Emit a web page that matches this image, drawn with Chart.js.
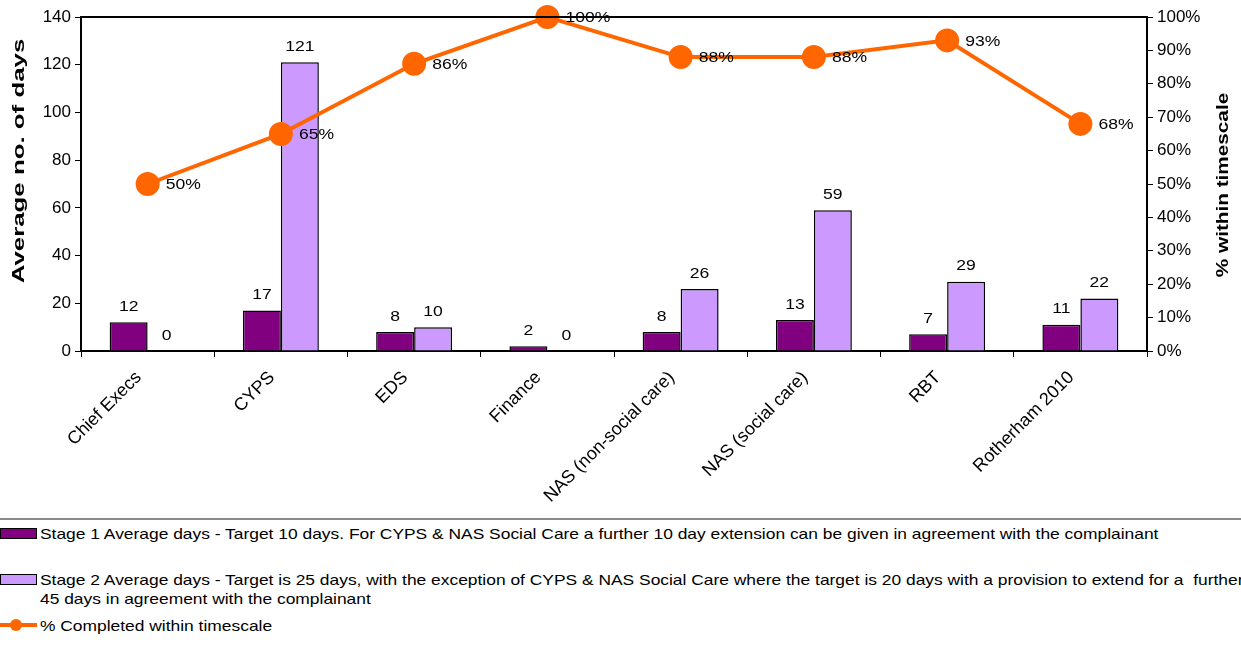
<!DOCTYPE html>
<html>
<head>
<meta charset="utf-8">
<script src="https://cdn.jsdelivr.net/npm/chart.js@4.4.1/dist/chart.umd.min.js"></script>
<style>
  body { margin: 0; background: #fff; width: 1241px; height: 655px; overflow: hidden; position: relative; font-family: "Liberation Sans", Arial, sans-serif; }
  #wrap { position: absolute; left: 0; top: 0; width: 1241px; height: 515px; }
  #sep { position: absolute; left: 0; top: 518px; width: 1241px; height: 0; border-top: 2px solid #8a8a8a; }
  .item { position: absolute; left: 0; white-space: nowrap; font-size: 15px; color: #000; line-height: 19px; }
  .txt { display: inline-block; transform: scaleX(1.16); transform-origin: 0 0; vertical-align: top; }
  .sw { display: inline-block; width: 35px; height: 9px; border: 1px solid #000; vertical-align: top; margin-top: 4px; margin-right: 3px; }
  .ln { display: inline-block; width: 37px; height: 12px; position: relative; vertical-align: top; margin-top: 3px; margin-right: 3px; }
  .ln::before { content: ""; position: absolute; left: 0; right: 0; top: 4px; height: 4px; background: #ff6600; }
  .ln::after { content: ""; position: absolute; left: 10px; top: 0; width: 12px; height: 12px; border-radius: 50%; background: #ff6600; }
</style>
</head>
<body>
<div id="wrap"><canvas id="complaintsChart" width="1241" height="515"></canvas></div>
<div id="sep"></div>
<div class="item" style="top:524px"><span class="sw" style="background:#800080"></span><span class="txt">Stage 1 Average days - Target 10 days. For CYPS &amp; NAS Social Care a further 10 day extension can be given in agreement with the complainant</span></div>
<div class="item" style="top:570px"><span class="sw" style="background:#cc99ff"></span><span class="txt">Stage 2 Average days - Target is 25 days, with the exception of CYPS &amp; NAS Social Care where the target is 20 days with a provision to extend for a&nbsp; further<br>45 days in agreement with the complainant</span></div>
<div class="item" style="top:616px"><span class="ln"></span><span class="txt">% Completed within timescale</span></div>
<script>
const categories = ['Chief Execs', 'CYPS', 'EDS', 'Finance', 'NAS (non-social care)', 'NAS (social care)', 'RBT', 'Rotherham 2010'];
const stage1Days = [12, 17, 8, 2, 8, 13, 7, 11];
const stage2Days = [0, 121, 10, 0, 26, 59, 29, 22];
const pctWithinTimescale = [50, 65, 86, 100, 88, 88, 93, 68];

const FONT = '"Liberation Sans", Arial, sans-serif';

// text is a bit wider than normal in the original, so stretch it along its direction
function stretchedText(ctx, text, x, y, opts) {
    ctx.save();
    ctx.translate(x, y);
    if (opts.rotate) ctx.rotate(opts.rotate);
    ctx.scale(opts.sx || 1, 1);
    ctx.font = opts.font;
    ctx.textAlign = opts.align || 'center';
    ctx.textBaseline = opts.baseline || 'middle';
    ctx.fillStyle = '#000';
    ctx.fillText(text, 0, 0);
    ctx.restore();
}

const labelPlugin = {
    id: 'valueLabels',
    afterDatasetsDraw(chart) {
        const ctx = chart.ctx;
        const area = chart.chartArea;
        ctx.save();
        ctx.strokeStyle = '#000';
        ctx.lineWidth = 2;
        ctx.beginPath();
        ctx.moveTo(area.left, area.top);
        ctx.lineTo(area.right, area.top);
        ctx.stroke();
        ctx.restore();

        chart.data.datasets.forEach((ds, i) => {
            const meta = chart.getDatasetMeta(i);
            meta.data.forEach((el, j) => {
                const v = ds.data[j];
                if (ds.type === 'line') {
                    stretchedText(ctx, v + '%', el.x + 18, el.y + 1, { font: '15px ' + FONT, align: 'left', sx: 1.17 });
                } else {
                    stretchedText(ctx, String(v), el.x, el.y - 8, { font: '15px ' + FONT, baseline: 'bottom', sx: 1.17 });
                }
            });
        });

        // axis titles
        stretchedText(ctx, 'Average no. of days', 19, 161, { font: 'bold 17px ' + FONT, rotate: -Math.PI / 2, sx: 1.52 });
        stretchedText(ctx, '% within timescale', 1223, 185, { font: 'bold 17px ' + FONT, rotate: -Math.PI / 2, sx: 1.22 });
    }
};

new Chart(document.getElementById('complaintsChart').getContext('2d'), {
    data: {
        labels: categories,
        datasets: [{
            type: 'line',
            label: '% Completed within timescale',
            data: pctWithinTimescale,
            yAxisID: 'y1',
            borderColor: '#ff6600',
            backgroundColor: '#ff6600',
            borderWidth: 4,
            pointRadius: 10,
            pointHoverRadius: 10,
            tension: 0,
            clip: false,
            order: 0
        }, {
            type: 'bar',
            label: 'Stage 1 Average days',
            data: stage1Days,
            yAxisID: 'y',
            backgroundColor: '#800080',
            borderColor: '#000',
            borderWidth: 1.5,
            barPercentage: 1,
            categoryPercentage: 0.57,
            order: 1
        }, {
            type: 'bar',
            label: 'Stage 2 Average days',
            data: stage2Days,
            yAxisID: 'y',
            backgroundColor: '#cc99ff',
            borderColor: '#000',
            borderWidth: 1.5,
            barPercentage: 1,
            categoryPercentage: 0.57,
            order: 2
        }]
    },
    options: {
        responsive: false,
        animation: false,
        layout: { padding: { top: 17, left: 0, right: 0, bottom: 0 } },
        plugins: {
            legend: { display: false },
            tooltip: { enabled: false }
        },
        scales: {
            x: {
                offset: true,
                grid: { offset: true, drawOnChartArea: false, color: '#000', tickLength: 6 },
                border: { color: '#000', width: 2 },
                ticks: {
                    color: '#000',
                    font: { family: FONT, size: 18 },
                    maxRotation: 45,
                    minRotation: 45,
                    autoSkip: false,
                    padding: 10,
                    labelOffset: -9
                },
                afterFit(scale) { scale.height = 164; }
            },
            y: {
                position: 'left',
                min: 0,
                max: 140,
                ticks: { stepSize: 20, color: '#000', font: { family: FONT, size: 17 }, padding: 4 },
                grid: { drawOnChartArea: false, color: '#000', tickLength: 6 },
                border: { color: '#000', width: 2 },
                afterFit(scale) { scale.width = 81; }
            },
            y1: {
                position: 'right',
                min: 0,
                max: 100,
                ticks: { stepSize: 10, color: '#000', font: { family: FONT, size: 17 }, padding: 4, callback: v => v + '%' },
                grid: { drawOnChartArea: false, color: '#000', tickLength: 6 },
                border: { color: '#000', width: 2 },
                afterFit(scale) { scale.width = 94; }
            }
        }
    },
    plugins: [labelPlugin]
});
</script>
</body>
</html>
